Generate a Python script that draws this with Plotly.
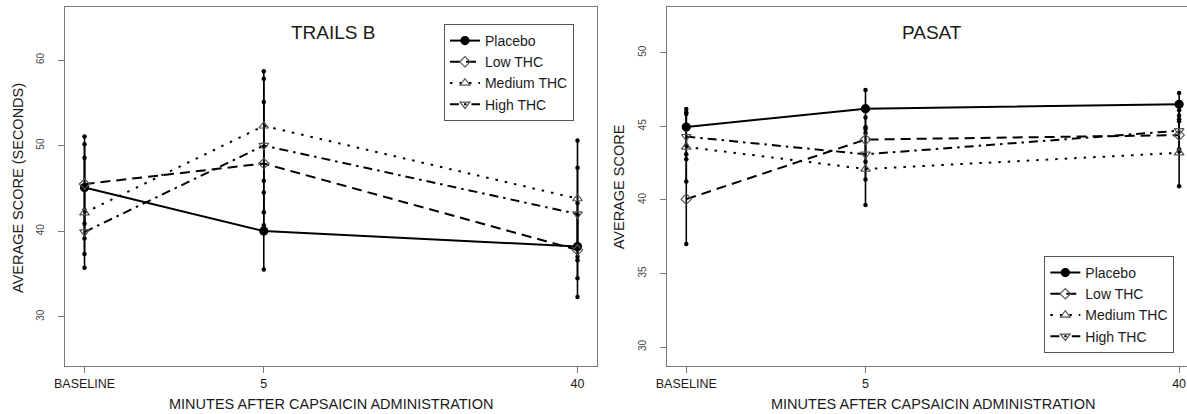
import plotly.graph_objects as go

# ---------------- data ----------------
x_pos = [-15, 5, 40]                      # baseline, 5 min, 40 min
x_labels = ["BASELINE", "5", "40"]
series_names = ["Placebo", "Low THC", "Medium THC", "High THC"]

# TRAILS B (seconds)
trails_placebo = [45.1, 40.0, 38.2]
trails_low = [45.5, 47.9, 37.8]
trails_medium = [42.15, 52.3, 43.8]
trails_high = [39.9, 50.0, 42.0]
trails_placebo_err = [5.95, 4.5, 3.7]
trails_low_err = [4.65, 7.2, 5.5]
trails_medium_err = [6.43, 6.4, 6.8]
trails_high_err = [2.57, 7.8, 5.4]

# PASAT
pasat_placebo = [44.95, 46.2, 46.5]
pasat_low = [40.05, 44.1, 44.4]
pasat_medium = [43.6, 42.1, 43.2]
pasat_high = [44.3, 43.1, 44.7]
pasat_placebo_err = [1.23, 1.27, 0.77]
pasat_low_err = [3.05, 1.5, 0.95]
pasat_medium_err = [2.35, 2.45, 2.28]
pasat_high_err = [1.54, 1.72, 1.4]

trails_y_ticks = [30, 40, 50, 60]
pasat_y_ticks = [30, 35, 40, 45, 50]

# ---------------- styles ----------------
FONT = "Liberation Sans, Arial, Helvetica, sans-serif"
TXT = "#1a1a1a"
AX = "#7a7a7a"
dashes = ["solid", "10px,6px", "2.5px,7px", "9px,5px,2.5px,5px"]
symbols = ["circle", "diamond-open", "triangle-up-open", "triangle-down-open"]
msizes = [8, 8, 8.5, 8.5]
mcolors = ["black", "#555555", "#555555", "#555555"]

W, H = 1187, 414

fig = go.Figure()


def add_panel(means, errs, xa, ya, legend):
    # error bars
    for m, e in zip(means, errs):
        fig.add_trace(go.Scatter(
            x=x_pos, y=m, mode="markers", xaxis=xa, yaxis=ya,
            marker=dict(size=1, color="rgba(0,0,0,0)"),
            error_y=dict(type="data", array=e, visible=True, color="black",
                         thickness=1.6, width=0),
            showlegend=False, hoverinfo="skip"))
    # end dots of error bars
    for m, e in zip(means, errs):
        ys = [v + d for v, d in zip(m, e)] + [v - d for v, d in zip(m, e)]
        fig.add_trace(go.Scatter(
            x=x_pos + x_pos, y=ys, mode="markers", xaxis=xa, yaxis=ya,
            marker=dict(size=4.5, color="black"),
            showlegend=False, hoverinfo="skip"))
    # series
    for i, (name, m) in enumerate(zip(series_names, means)):
        fig.add_trace(go.Scatter(
            x=x_pos, y=m, name=name, mode="lines+markers", xaxis=xa, yaxis=ya,
            line=dict(color="black", width=2, dash=dashes[i]),
            marker=dict(symbol=symbols[i], size=msizes[i], color=mcolors[i],
                        line=dict(width=1.2, color=mcolors[i])),
            legend=legend))


add_panel([trails_placebo, trails_low, trails_medium, trails_high],
          [trails_placebo_err, trails_low_err, trails_medium_err, trails_high_err],
          "x", "y", "legend")
add_panel([pasat_placebo, pasat_low, pasat_medium, pasat_high],
          [pasat_placebo_err, pasat_low_err, pasat_medium_err, pasat_high_err],
          "x2", "y2", "legend2")

# ---------------- geometry ----------------
L1, R1 = 54.3, 591.7
L2, R2 = 661.7, 1187.0
TOP, BOT = 7.3, 365.7

xcommon = dict(tickvals=x_pos, ticktext=x_labels, ticks="outside", ticklen=6,
               tickcolor=AX, tickwidth=1, showline=True, linecolor=AX, linewidth=1,
               mirror=True, showgrid=False, zeroline=False,
               tickfont=dict(family=FONT, size=12.5, color=TXT))
ycommon = dict(ticks="outside", ticklen=6, tickcolor=AX, tickwidth=1,
               showline=True, linecolor=AX, linewidth=1, showgrid=False,
               zeroline=False, tickangle=-90, ticklabelstandoff=10,
               tickfont=dict(family=FONT, size=10, color="#444444"))

legcommon = dict(xanchor="left", yanchor="top", bgcolor="white",
                 bordercolor="#555555", borderwidth=1,
                 font=dict(family=FONT, size=14, color=TXT), tracegroupgap=0)

fig.update_layout(
    width=W, height=H,
    margin=dict(l=0, r=0, t=0, b=0),
    paper_bgcolor="white", plot_bgcolor="white",
    showlegend=True,
    xaxis=dict(domain=[L1 / W, R1 / W], range=[-17.2, 42.2], anchor="y", **xcommon),
    yaxis=dict(domain=[(H - BOT) / H, (H - TOP) / H], range=[24.27, 66.16],
               tickvals=trails_y_ticks, anchor="x", mirror=True, **ycommon),
    xaxis2=dict(domain=[L2 / W, R2 / W], range=[-17.2, 40.88], anchor="y2", **xcommon),
    yaxis2=dict(domain=[(H - BOT) / H, (H - TOP) / H], range=[28.73, 53.09],
                tickvals=pasat_y_ticks, anchor="x2", mirror=False, **ycommon),
    legend=dict(x=437 / W, y=(H - 24) / H, **legcommon),
    legend2=dict(x=1043 / W, y=(H - 256) / H, **legcommon),
)

ann = []
xt = "MINUTES AFTER CAPSAICIN ADMINISTRATION"
for cx in [(L1 + R1) / 2, (L2 + 1199) / 2]:
    ann.append(dict(text=xt, xref="paper", yref="paper", x=cx / W, y=(H - 403.5) / H,
                    xanchor="center", yanchor="middle", showarrow=False,
                    font=dict(family=FONT, size=14.5, color=TXT)))
ann.append(dict(text="AVERAGE SCORE (SECONDS)", xref="paper", yref="paper",
                x=7 / W, y=(H - 188) / H, textangle=-90, xanchor="center",
                yanchor="middle", showarrow=False,
                font=dict(family=FONT, size=14.5, color=TXT)))
ann.append(dict(text="AVERAGE SCORE", xref="paper", yref="paper",
                x=614 / W, y=(H - 187) / H, textangle=-90, xanchor="center",
                yanchor="middle", showarrow=False,
                font=dict(family=FONT, size=14.5, color=TXT)))
ann.append(dict(text="TRAILS B", xref="paper", yref="paper", x=325 / W, y=(H - 32.7) / H,
                xanchor="center", yanchor="middle", showarrow=False,
                font=dict(family=FONT, size=19, color=TXT)))
ann.append(dict(text="PASAT", xref="paper", yref="paper", x=929.8 / W, y=(H - 32.7) / H,
                xanchor="center", yanchor="middle", showarrow=False,
                font=dict(family=FONT, size=19, color=TXT)))
fig.update_layout(annotations=ann)

fig.write_html("out.html")
